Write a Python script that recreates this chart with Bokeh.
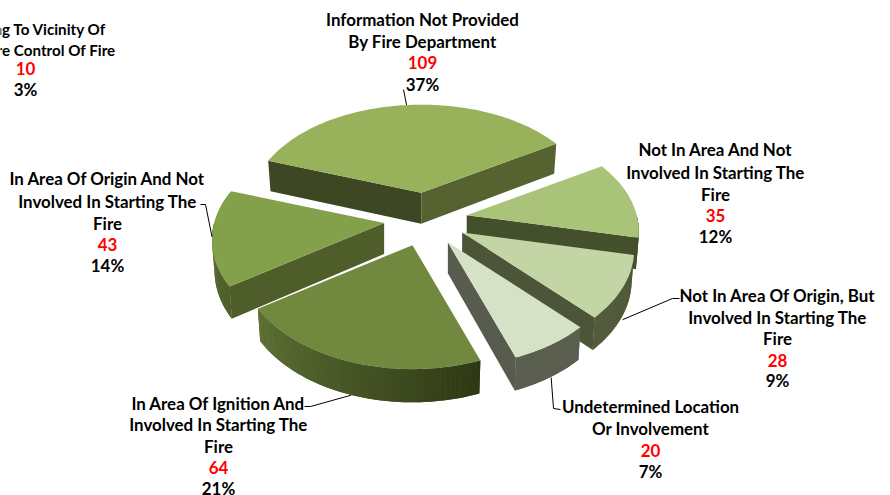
import math
from bokeh.plotting import figure
from bokeh.core.properties import value
from bokeh.embed import file_html
from bokeh.resources import INLINE

# --- data ---
slice_names = ["Information Not Provided By Fire Department",
               "Not In Area And Not Involved In Starting The Fire",
               "Not In Area Of Origin, But Involved In Starting The Fire",
               "Undetermined Location Or Involvement",
               "In Area Of Ignition And Involved In Starting The Fire",
               "In Area Of Origin And Not Involved In Starting The Fire"]
slice_values = [109, 35, 28, 20, 64, 43]
slice_percents = ["37%", "12%", "9%", "7%", "21%", "14%"]
# the seventh category has a label in the source chart but no visible slice
extra_value = 10
extra_percent = "3%"

label_lines = [
    ["Information Not Provided", "By Fire Department"],
    ["Not In Area And Not", "Involved In Starting The", "Fire"],
    ["Not In Area Of Origin, But", "Involved In Starting The", "Fire"],
    ["Undetermined Location", "Or Involvement"],
    ["In Area Of Ignition And", "Involved In Starting The", "Fire"],
    ["In Area Of Origin And Not", "Involved In Starting The", "Fire"],
]
extra_lines = ["Moving To Vicinity Of", "Before Control Of Fire"]

# --- styles and geometry ---
top_colors = ["#97B25A", "#A9C378", "#C3D4A5", "#D6E2C5", "#71893E", "#83A04A"]
start_face = ["#3D4723", "#444F2C", "#4C5538", "#585C4E", "#2F3815", "#4F5D2A"]
end_face = ["#56622F", "#444F2C", "#4C5538", "#585C4E", "#2F3815", "#4F5D2A"]
arc_from = ["#56622F", "#444F2C", "#4F5A38", "#5B5F50", "#2E3714", "#4F5D2A"]
arc_to = ["#3D4723", "#444F2C", "#535C3D", "#5B5F50", "#5F7336", "#667C39"]
draw_order = [0, 1, 5, 2, 3, 4]

CX, CY = 425.0, 219.0
RX, RY = 170.0, 106.0
PERSP_X, PERSP_Y = 0.16, 0.17
DEPTH = 31.0
BOTTOM_SCALE = 0.985
EXPLODE_X, EXPLODE_Y = 41.75, 27.0
FIRST_ANGLE = -71.5

label_x = [422, 715, 777, 650, 218, 107]
label_y = [[19, 41, 62, 84],
           [149, 172, 194, 215, 236],
           [295, 317, 338, 360, 380],
           [406, 428, 450, 471],
           [403, 424, 446, 467, 488],
           [178, 201, 223, 244, 265]]
extra_x, extra_y = 25, [68, 89]
extra_line_right = [106, 115]
extra_line_y = [28, 49]
elbows = {0: [(403, 89)], 2: [(679, 298), (672, 298)], 3: [(560, 409), (553, 408)],
          4: [(304, 406), (310, 406)], 5: [(200, 204), (205, 204)]}
FONT = "Lato"
FS = "16.9px"
FS_EXTRA = "15.2px"


def hex2rgb(c):
    return tuple(int(c[i:i + 2], 16) for i in (1, 3, 5))


def mix(a, b, t):
    ra, rb = hex2rgb(a), hex2rgb(b)
    return "#%02X%02X%02X" % tuple(round(x + (y - x) * t) for x, y in zip(ra, rb))


total = sum(slice_values)
angles = [FIRST_ANGLE]
for v in slice_values:
    angles.append(angles[-1] + v / total * 360.0)


def front(deg):
    return -math.cos(math.radians(deg))


def rim(ax, ay, deg):
    f = front(deg)
    return (ax + RX * (1 + PERSP_X * f) * math.sin(math.radians(deg)),
            ay + RY * (1 + PERSP_Y * f) * f)


def rim_low(ax, ay, deg):
    x, y = rim(ax, ay, deg)
    return ax + (x - ax) * BOTTOM_SCALE, y + DEPTH * (1 + 0.07 * front(deg))


xs, ys, cols = [], [], []
anchors = {}

for i in draw_order:
    a0, a1 = angles[i], angles[i + 1]
    mid = (a0 + a1) / 2
    ax = CX + EXPLODE_X * math.sin(math.radians(mid))
    ay = CY + EXPLODE_Y * front(mid)

    # radial side faces that look towards the viewer
    for deg, faces, show in ((a0, start_face, math.sin(math.radians(a0)) < 0),
                             (a1, end_face, math.sin(math.radians(a1)) > 0)):
        if show:
            tx, ty = rim(ax, ay, deg)
            bx, by = rim_low(ax, ay, deg)
            xs.append([ax, tx, bx, ax])
            ys.append([ay, ty, by, ay + DEPTH])
            cols.append(faces[i])

    # curved outer wall: a base shape, then narrow shaded strips on top
    steps = max(4, int((a1 - a0) / 1.5))
    grid = [a0 + (a1 - a0) * k / steps for k in range(steps + 1)]
    vis = [t for t in grid if front(t) > -0.02]
    if len(vis) > 1:
        up = [rim(ax, ay, t) for t in vis]
        lo = [rim_low(ax, ay, t) for t in reversed(vis)]
        xs.append([q[0] for q in up + lo])
        ys.append([q[1] for q in up + lo])
        cols.append(mix(arc_from[i], arc_to[i], 0.5))
    for k in range(steps):
        t0, t1 = grid[k], grid[k + 1]
        if front(t0) <= -0.02 or front(t1) <= -0.02:
            continue
        x0, y0 = rim(ax, ay, t0)
        x1, y1 = rim(ax, ay, t1)
        x2, y2 = rim_low(ax, ay, t1)
        x3, y3 = rim_low(ax, ay, t0)
        xs.append([x0, x1, x2, x3])
        ys.append([y0, y1, y2, y3])
        cols.append(mix(arc_from[i], arc_to[i], (k + 0.5) / steps))

    # top face
    n = max(8, int((a1 - a0) / 1.5))
    pts = [rim(ax, ay, a0 + (a1 - a0) * k / n) for k in range(n + 1)]
    xs.append([ax] + [q[0] for q in pts])
    ys.append([ay] + [q[1] for q in pts])
    cols.append(top_colors[i])

    mx, my = rim(ax, ay, mid)
    if front(mid) > 0.3:
        my = rim_low(ax, ay, mid)[1]
    anchors[i] = (mx, my)

p = figure(width=890, height=495, x_range=(0, 890), y_range=(495, 0),
           output_backend="svg", toolbar_location=None, min_border=0,
           outline_line_color=None, background_fill_color="white", border_fill_color="white")
p.axis.visible = False
p.grid.visible = False

p.patches(xs, ys, fill_color=cols, line_color=None)

# leader lines from the label to the middle of the slice
lx, ly = [], []
for i, pts in elbows.items():
    lx.append([q[0] for q in pts] + [anchors[i][0]])
    ly.append([q[1] for q in pts] + [anchors[i][1]])
p.multi_line(lx, ly, line_color="black", line_width=1)

# labels
tx, ty, tt, tc = [], [], [], []
for i in range(len(slice_values)):
    rows = label_lines[i] + [str(slice_values[i]), slice_percents[i]]
    colors = ["black"] * len(label_lines[i]) + ["#FF0000", "black"]
    for row, yy, cc in zip(rows, label_y[i], colors):
        tx.append(label_x[i]); ty.append(yy); tt.append(row); tc.append(cc)
for row, yy, cc in zip([str(extra_value), extra_percent], extra_y, ["#FF0000", "black"]):
    tx.append(extra_x); ty.append(yy); tt.append(row); tc.append(cc)

p.text(tx, ty, text=tt, text_color=tc, text_font=value(FONT), text_font_size=value(FS),
       text_font_style="bold", text_align="center", text_baseline="middle")
p.text(extra_line_right, extra_line_y, text=extra_lines, text_color="black", text_font=value(FONT),
       text_font_size=value(FS_EXTRA), text_font_style="bold", text_align="right",
       text_baseline="middle")

open("out.html", "w").write(file_html(p, INLINE))
